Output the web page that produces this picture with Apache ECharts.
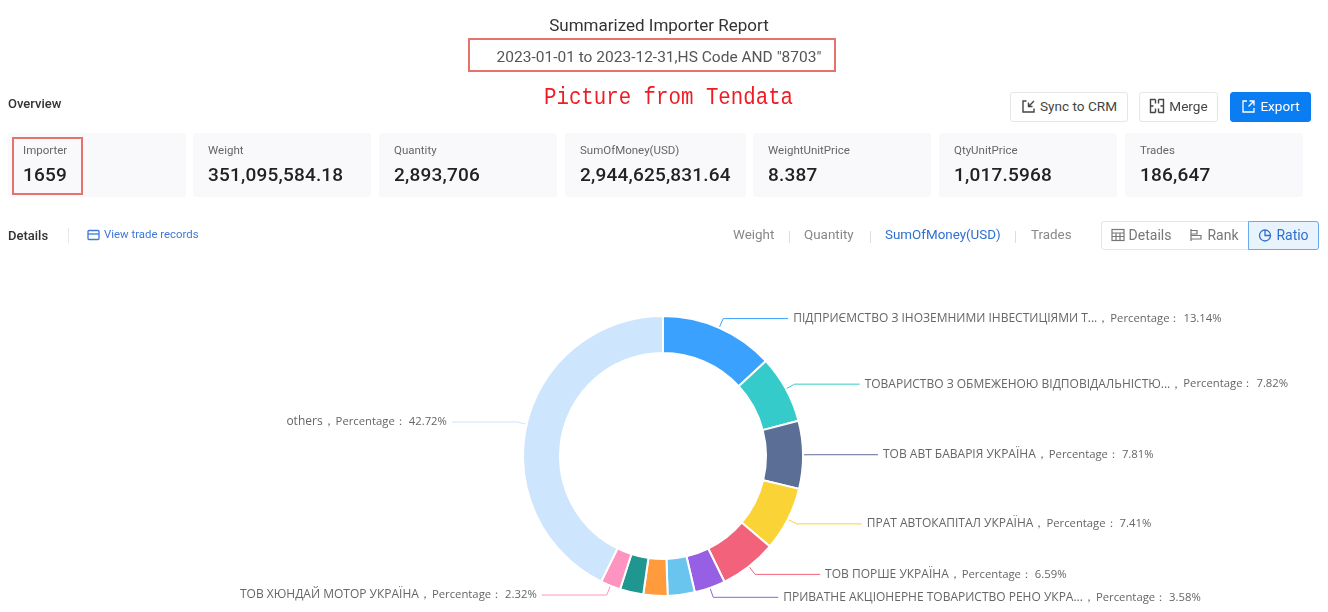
<!DOCTYPE html>
<html>
<head>
<meta charset="utf-8">
<title>Summarized Importer Report</title>
<script src="https://cdn.jsdelivr.net/npm/echarts@6/dist/echarts.min.js"></script>
<style>
html, body { margin: 0; padding: 0; background: #fff; overflow: hidden; }
body { width: 1328px; height: 612px; position: relative; font-family: Roboto, "Noto Sans", sans-serif; color: #333; }
#chart { position: absolute; left: 0; top: 0; width: 1328px; height: 612px; }
.abs { position: absolute; white-space: nowrap; line-height: 1; }
.box { position: absolute; box-sizing: border-box; }
.card { position: absolute; top: 133px; height: 64px; background: #f9f9fc; border-radius: 3px; }
.card .k { position: absolute; top: 10px; left: 15px; font-size: 11.5px; color: #666; line-height: 14px; white-space: nowrap; }
.card .v { position: absolute; top: 31px; left: 15px; font-size: 19px; font-weight: 500; letter-spacing: 0.2px; color: #222; line-height: 22px; white-space: nowrap; }
.btn { position: absolute; top: 92px; height: 30px; box-sizing: border-box; padding-bottom: 2px; border: 1px solid #e6e6e6; border-radius: 3px; font-size: 13.6px; color: #444; display: flex; align-items: center; justify-content: center; gap: 4px; background: #fff; }
.btn svg, .seg svg { display: block; }
.seg { position: absolute; top: 221px; height: 29px; box-sizing: border-box; padding-bottom: 2px; border: 1px solid #e3e6ea; font-size: 14px; color: #777; display: flex; align-items: center; justify-content: center; gap: 4px; background: #fff; }
.tab { position: absolute; top: 227px; font-size: 13.4px; line-height: 16px; color: #888; white-space: nowrap; }
</style>
</head>
<body>
<div id="chart"></div>

<div class="box" style="left:468px;top:38px;width:368px;height:34px;border:2px solid #e5726c"></div>
<div class="abs" style="left:544px;top:87px;font-family:'Liberation Mono',monospace;font-size:20.75px;transform:scaleY(1.15);transform-origin:left top;color:#ee1c25">Picture from Tendata</div>
<div class="abs" style="left:8px;top:97px;font-size:13px;font-weight:500;color:#333">Overview</div>

<div class="btn" style="left:1010px;width:118px">
  <svg width="15" height="15" viewBox="0 0 15 15" fill="none" stroke="#444" stroke-width="1.4"><path d="M5.5 2H2v11h11V9.5M13 2L7.5 7.5M7.5 3.5v4h4"/></svg>Sync to CRM
</div>
<div class="btn" style="left:1139px;width:79px">
  <svg width="16" height="16" viewBox="0 0 16 16" fill="none" stroke="#444" stroke-width="1.4"><path d="M6.5 1.5h-5v13h5M9.5 1.5h5v13h-5M1.5 8h3M11.5 8h3M6.5 1.5v4M6.5 10.5v4M9.5 1.5v4M9.5 10.5v4"/></svg>Merge
</div>
<div class="btn" style="left:1230px;width:81px;background:#0a7df3;border-color:#0a7df3;color:#fff">
  <svg width="15" height="15" viewBox="0 0 15 15" fill="none" stroke="#fff" stroke-width="1.3"><path d="M6 2H2v11h11V9M8.5 2H13v4.5M13 2L7.5 7.5"/></svg>Export
</div>

<div id="cards"></div>
<div class="box" style="left:12px;top:137px;width:71px;height:58px;border:2px solid #e5726c"></div>

<div class="abs" style="left:8px;top:229px;font-size:13px;font-weight:500;color:#333">Details</div>
<div class="box" style="left:68px;top:228px;width:1px;height:15px;background:#e8e8e8"></div>
<svg class="box" style="left:87px;top:229px" width="13" height="12" viewBox="0 0 13 12" fill="none" stroke="#3f78d8" stroke-width="1.3"><rect x="1" y="1.5" width="11" height="9" rx="1"/><path d="M1 5h11"/></svg>
<div class="abs" style="left:104px;top:229px;font-size:11.4px;color:#3f78d8">View trade records</div>

<div id="tabs"></div>
<div class="box" style="left:789px;top:231px;width:1px;height:12px;background:#ddd"></div>
<div class="box" style="left:870px;top:231px;width:1px;height:12px;background:#ddd"></div>
<div class="box" style="left:1015px;top:231px;width:1px;height:12px;background:#ddd"></div>

<div class="seg" style="left:1101px;width:80px;border-radius:3px 0 0 3px">
  <svg width="14" height="14" viewBox="0 0 14 14" fill="none" stroke="#777" stroke-width="1.2"><rect x="1" y="1.5" width="12" height="11"/><path d="M1 5h12M1 8.5h12M5 5v7.5M9 5v7.5"/></svg>Details
</div>
<div class="seg" style="left:1180px;width:69px;border-left:none">
  <svg width="14" height="14" viewBox="0 0 14 14" fill="none" stroke="#777" stroke-width="1.2"><path d="M2 1v12M2 2.5h6v3.5H2M2 7.5h10V11H2"/></svg>Rank
</div>
<div class="seg" style="left:1248px;width:71px;background:#e9f3fe;border:1px solid #69a9ee;color:#2f6fd0;border-radius:0 3px 3px 0">
  <svg width="14" height="14" viewBox="0 0 14 14" fill="none" stroke="#2f6fd0" stroke-width="1.3"><circle cx="7" cy="7.5" r="5.5"/><path d="M7 2v5.5h5.5"/></svg>Ratio
</div>

<script>
const reportTitle = 'Summarized Importer Report'
const reportRange = '2023-01-01 to 2023-12-31,HS Code AND "8703"'

const cardNames = ['Importer', 'Weight', 'Quantity', 'SumOfMoney(USD)', 'WeightUnitPrice', 'QtyUnitPrice', 'Trades']
const cardValues = ['1659', '351,095,584.18', '2,893,706', '2,944,625,831.64', '8.387', '1,017.5968', '186,647']
const cardLefts = [8, 193, 379, 565, 753, 939, 1125]
const cardWidths = [178, 178, 178, 181, 178, 178, 178]

const tabNames = ['Weight', 'Quantity', 'SumOfMoney(USD)', 'Trades']
const tabLefts = [733, 804, 885, 1031]

// 名称太长的在原图里就是截断的
const importers = [
    'ПІДПРИЄМСТВО З ІНОЗЕМНИМИ ІНВЕСТИЦІЯМИ Т...',
    'ТОВАРИСТВО З ОБМЕЖЕНОЮ ВІДПОВІДАЛЬНІСТЮ...',
    'ТОВ АВТ БАВАРІЯ УКРАЇНА',
    'ПРАТ АВТОКАПІТАЛ УКРАЇНА',
    'ТОВ ПОРШЕ УКРАЇНА',
    'ПРИВАТНЕ АКЦІОНЕРНЕ ТОВАРИСТВО РЕНО УКРА...',
    'importer 7',
    'importer 8',
    'importer 9',
    'ТОВ ХЮНДАЙ МОТОР УКРАЇНА',
    'others'
]
// 7,8,9 have no label in the picture
const percentages = [13.14, 7.82, 7.81, 7.41, 6.59, 3.58, 3.12, 2.79, 2.70, 2.32, 42.72]
const sliceColors = ['#3aa1ff', '#36cbcb', '#5b6e96', '#fad337', '#f2637b', '#975fe4', '#69c4ee', '#ff9a3d', '#1f9690', '#ff94c0', '#cde5fd']
const showLabel = [true, true, true, true, true, true, false, false, false, true, true]

document.getElementById('cards').innerHTML = cardNames.map((name, i) =>
    `<div class="card" style="left:${cardLefts[i]}px;width:${cardWidths[i]}px"><div class="k">${name}</div><div class="v">${cardValues[i]}</div></div>`
).join('')

document.getElementById('tabs').innerHTML = tabNames.map((name, i) =>
    `<div class="tab" style="left:${tabLefts[i]}px;${i === 2 ? 'color:#2f6fd0' : ''}">${name}</div>`
).join('')

const chart = echarts.init(document.getElementById('chart'))
chart.setOption({
    animation: false,
    title: {
        text: reportTitle,
        subtext: reportRange,
        left: 654,
        top: 13,
        textAlign: 'center',
        itemGap: 15,
        textStyle: { fontFamily: 'Roboto', fontSize: 17, fontWeight: 400, color: '#333' },
        subtextStyle: { fontFamily: 'Roboto', fontSize: 15.5, color: '#555' }
    },
    series: [
        {
            type: 'pie',
            center: [663, 456],
            radius: [103, 140],
            startAngle: 90,
            clockwise: true,
            avoidLabelOverlap: false,
            itemStyle: { borderColor: '#fff', borderWidth: 2 },
            label: {
                formatter: p => '{n|' + p.name + '，}{t|Percentage： ' + p.value.toFixed(2) + '%}',
                rich: {
                    n: { fontFamily: '"Open Sans", "Noto Sans"', fontSize: 12, color: '#666', padding: [0, 1, 0, 0] },
                    t: { fontFamily: '"Open Sans", "Noto Sans"', fontSize: 11.3, color: '#666' }
                }
            },
            data: importers.map((name, i) => ({
                name: name,
                value: percentages[i],
                itemStyle: { color: sliceColors[i] },
                label: { show: showLabel[i] },
                labelLine: { show: showLabel[i], length: 10, length2: 65, lineStyle: { width: 1 } }
            }))
        }
    ]
})
</script>
</body>
</html>
